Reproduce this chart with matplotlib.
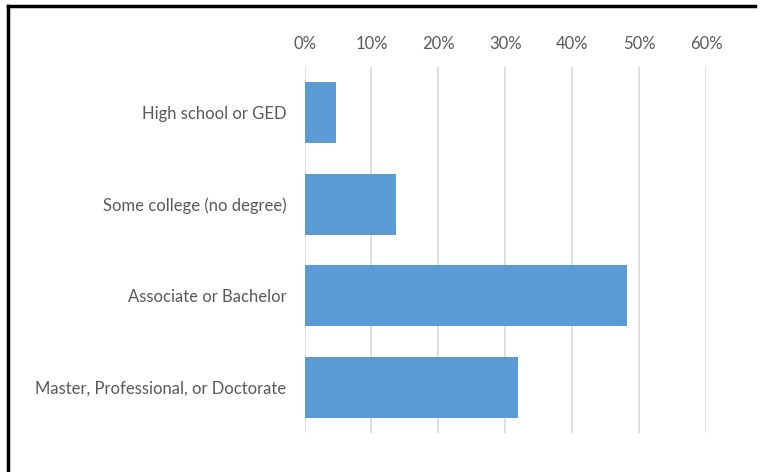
import numpy as np
import matplotlib
matplotlib.use('Agg')
import matplotlib.pyplot as plt
from matplotlib.lines import Line2D
from matplotlib.ticker import FuncFormatter

# Data
categories = ['High school or GED', 'Some college (no degree)',
              'Associate or Bachelor', 'Master, Professional, or Doctorate']
shares = [0.047, 0.136, 0.482, 0.319]
x_ticks = [0.0, 0.1, 0.2, 0.3, 0.4, 0.5, 0.6]

plt.rcParams['font.family'] = ['Lato', 'DejaVu Sans']

fig = plt.figure(figsize=(7.6, 4.72), dpi=100)
ax = fig.add_axes([0.4007, 0.0826, 0.5283, 0.7754])

y = np.arange(len(categories))
ax.barh(y, shares, height=0.667, color='#5B9BD5', zorder=3)

ax.set_xlim(0, 0.6)
ax.set_ylim(len(categories) - 0.5, -0.5)
ax.set_xticks(x_ticks)
ax.xaxis.set_major_formatter(FuncFormatter(lambda v, p: f'{v * 100:.0f}%'))
ax.xaxis.tick_top()
ax.set_yticks(y)
ax.set_yticklabels(categories)

ax.tick_params(axis='x', length=0, pad=11, labelsize=12, labelcolor='#595959')
ax.tick_params(axis='y', length=0, pad=13, labelsize=12, labelcolor='#595959')

ax.grid(axis='x', color='#D9D9D9', linewidth=1.2, zorder=0)
for s in ax.spines.values():
    s.set_visible(False)

# frame fragment around the figure (left and top edges)
fig.add_artist(Line2D([7.5 / 760, 7.5 / 760], [0, 1 - 6 / 472], transform=fig.transFigure,
                      color='black', linewidth=2.5))
fig.add_artist(Line2D([7.5 / 760, 755 / 760], [1 - 6 / 472, 1 - 6 / 472], transform=fig.transFigure,
                      color='black', linewidth=2.5))

fig.savefig('out.png', dpi=100)
